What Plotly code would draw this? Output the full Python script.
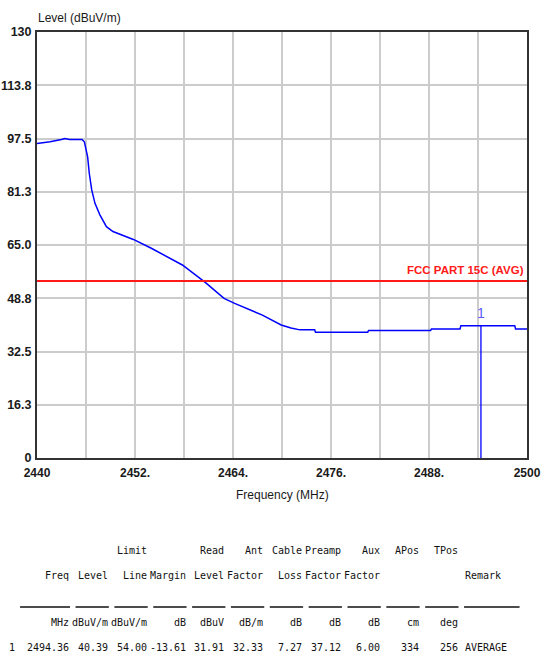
import plotly.graph_objects as go

# ---------------- data ----------------
freq_mhz = [2440, 2441.6, 2443.0, 2443.4, 2444.0, 2445.5, 2445.8, 2446.2, 2446.4, 2446.7,
            2447.1, 2447.7, 2448.5, 2449.3, 2451.8, 2454.0, 2457.8, 2460.6, 2462.9, 2464.2,
            2467.6, 2469.9, 2471.1, 2472.2, 2474.0, 2474.1, 2480.5, 2480.6, 2488.2, 2488.3,
            2491.8, 2491.9, 2498.5, 2498.6, 2500]
level_dbuv = [96.0, 96.5, 97.2, 97.5, 97.2, 97.2, 96.5, 91.9, 86.9, 81.8,
              77.7, 74.2, 70.6, 69.1, 66.7, 64.0, 58.9, 53.6, 48.7, 47.2,
              43.6, 40.6, 39.7, 39.1, 39.1, 38.4, 38.4, 38.9, 38.9, 39.4,
              39.4, 40.39, 40.39, 39.4, 39.4]

limit_level = 54.0
limit_label = "FCC PART 15C (AVG)"

x_range = [2440, 2500]
x_tickvals = [2440, 2446, 2452, 2458, 2464, 2470, 2476, 2482, 2488, 2494, 2500]
x_ticktext = ["2440", "", "2452.", "", "2464.", "", "2476.", "", "2488.", "", "2500"]
y_range = [0, 130]
y_tickvals = [0, 16.25, 32.5, 48.75, 65, 81.25, 97.5, 113.75, 130]
y_ticktext = ["0", "16.3", "32.5", "48.8", "65.0", "81.3", "97.5", "113.8", "130"]

header_row1 = ["", "", "Limit", "", "Read", "Ant", "Cable", "Preamp", "Aux", "APos", "TPos"]
header_row2 = ["Freq", "Level", "Line", "Margin", "Level", "Factor", "Loss", "Factor", "Factor", "", ""]
unit_row = ["MHz", "dBuV/m", "dBuV/m", "dB", "dBuV", "dB/m", "dB", "dB", "dB", "cm", "deg"]
row_index = "1"
row_values = ["2494.36", "40.39", "54.00", "-13.61", "31.91", "32.33", "7.27", "37.12", "6.00", "334", "256"]
remark_header = "Remark"
row_remark = "AVERAGE"

marker_freq = [float(row_values[0])]
marker_level = [float(row_values[1])]
marker_label = ["1"]

# ---------------- layout helpers (page pixel coords) ----------------
W, H = 541, 664
L, R, T, B = 37, 527, 32, 458


def px_x(p):
    return (p - L) / (R - L)


def px_y(p):
    return (B - p) / (B - T)


SANS = "Liberation Sans, Arial, sans-serif"
TABLE_FONT = "DejaVu Sans Mono, Liberation Mono, monospace"

fig = go.Figure()

fig.add_trace(go.Scatter(x=freq_mhz, y=level_dbuv, mode="lines",
                         line=dict(color="#0000ff", width=1.5), hoverinfo="skip", showlegend=False))

fig.add_trace(go.Scatter(x=[x_range[0], x_range[1]], y=[limit_level, limit_level], mode="lines",
                         line=dict(color="#ff1a1a", width=2), hoverinfo="skip", showlegend=False))

fig.add_trace(go.Scatter(x=[marker_freq[0], marker_freq[0]], y=[0, marker_level[0]], mode="lines",
                         line=dict(color="#0000ff", width=1.3), hoverinfo="skip", showlegend=False))

annotations = []
annotations.append(dict(x=marker_freq[0], y=marker_level[0], xref="x", yref="y", text=marker_label[0],
                        showarrow=False, yanchor="bottom", yshift=3,
                        font=dict(family=SANS, size=14, color="#5b5bff")))
annotations.append(dict(x=x_range[1], y=limit_level, xref="x", yref="y", text=limit_label,
                        showarrow=False, xanchor="right", yanchor="bottom", yshift=3, xshift=-1,
                        font=dict(family=SANS, size=11.5, color="#ff1a1a", weight="bold")))
annotations.append(dict(x=px_x(36), y=px_y(18), xref="paper", yref="paper", text="Level (dBuV/m)",
                        showarrow=False, xanchor="left", yanchor="middle",
                        font=dict(family=SANS, size=12, color="#1a1a1a")))
annotations.append(dict(x=px_x(282), y=px_y(495), xref="paper", yref="paper", text="Frequency (MHz)",
                        showarrow=False, xanchor="center", yanchor="middle",
                        font=dict(family=SANS, size=12, color="#1a1a1a")))

# table
col_right = [70 + k * 38.85 for k in range(11)]
char_w = 5.55
tf = dict(family=TABLE_FONT, size=10, color="#111111")
rows_y = {"h1": 550, "h2": 575, "u": 622, "d": 647}
shapes = []
for k in range(11):
    for key, arr in (("h1", header_row1), ("h2", header_row2), ("u", unit_row), ("d", row_values)):
        if arr[k]:
            annotations.append(dict(x=px_x(col_right[k] + 1), y=px_y(rows_y[key]), xref="paper", yref="paper",
                                    text=arr[k], showarrow=False, xanchor="right", yanchor="middle", font=tf))
    nchar = 9 if k == 0 else 6
    shapes.append(dict(type="line", xref="paper", yref="paper",
                       x0=px_x(col_right[k] - nchar * char_w), x1=px_x(col_right[k]),
                       y0=px_y(607), y1=px_y(607), line=dict(color="#111111", width=1.3)))
remark_left = col_right[10] + char_w
shapes.append(dict(type="line", xref="paper", yref="paper",
                   x0=px_x(remark_left), x1=px_x(remark_left + 10 * char_w),
                   y0=px_y(607), y1=px_y(607), line=dict(color="#111111", width=1.3)))
annotations.append(dict(x=px_x(remark_left - 1), y=px_y(rows_y["h2"]), xref="paper", yref="paper",
                        text=remark_header, showarrow=False, xanchor="left", yanchor="middle", font=tf))
annotations.append(dict(x=px_x(remark_left - 1), y=px_y(rows_y["d"]), xref="paper", yref="paper",
                        text=row_remark, showarrow=False, xanchor="left", yanchor="middle", font=tf))
annotations.append(dict(x=px_x(12), y=px_y(rows_y["d"]), xref="paper", yref="paper",
                        text=row_index, showarrow=False, xanchor="center", yanchor="middle", font=tf))

x_tick_font = dict(family=SANS, size=12, color="#1a1a1a", weight="bold")
y_tick_font = dict(family=SANS, size=12.5, color="#1a1a1a", weight="bold")

fig.update_layout(
    width=W, height=H,
    margin=dict(l=L, r=W - R, t=T, b=H - B, autoexpand=False),
    paper_bgcolor="white", plot_bgcolor="white",
    showlegend=False,
    annotations=annotations,
    shapes=shapes,
    xaxis=dict(range=x_range, tickvals=x_tickvals, ticktext=x_ticktext, showgrid=True,
               gridcolor="#cccccc", gridwidth=1.5, zeroline=False, showline=True, linecolor="#333333",
               linewidth=2, mirror=True, ticks="", tickfont=x_tick_font, ticklabelstandoff=3,
               automargin=False, ticklabeloverflow="allow", fixedrange=True),
    yaxis=dict(range=y_range, tickvals=y_tickvals, ticktext=y_ticktext, showgrid=True,
               gridcolor="#cccccc", gridwidth=1.5, zeroline=False, showline=True, linecolor="#333333",
               linewidth=2, mirror=True, ticks="", tickfont=y_tick_font, ticklabelstandoff=1,
               automargin=False, ticklabeloverflow="allow", fixedrange=True),
)

fig.write_html("out.html", config={"displayModeBar": False},
               post_script="document.body.style.margin='0';document.body.style.overflow='hidden';")
